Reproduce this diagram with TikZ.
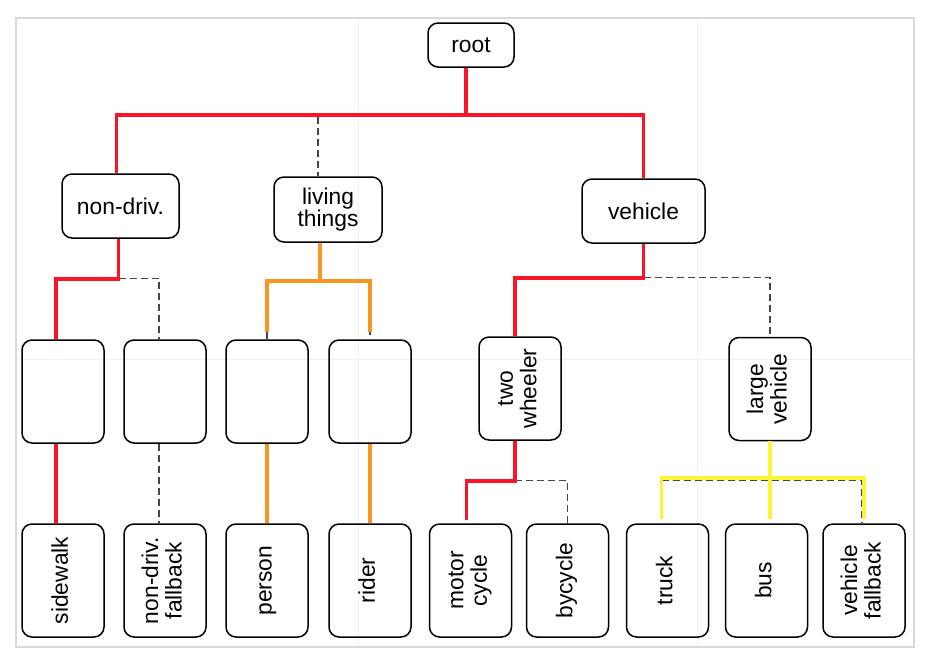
\documentclass[tikz,border=0pt]{standalone}
\usepackage{fontspec}
\setmainfont{Liberation Sans}
\usepackage{graphicx}
\usepackage{xcolor}
\usetikzlibrary{calc}

\definecolor{hitred}{RGB}{250,20,40}
\definecolor{hitorange}{RGB}{247,150,35}
\definecolor{hityellow}{RGB}{250,245,55}
\definecolor{fbgray}{RGB}{70,70,70}

\newcommand{\vtext}[1]{\rotatebox{90}{\fontsize{11.4}{11.6}\selectfont\begin{tabular}{@{}c@{}}#1\end{tabular}}}

\begin{document}
\begin{tikzpicture}[x=0.5pt, y=-0.5pt,
        box/.style={draw, rounded corners=5pt, line width=0.75pt, align=center, inner sep=0pt,
            font=\fontsize{11.4}{11}\selectfont},
        cls/.style={box, minimum width=41pt, minimum height=51.5pt},
        leaf/.style={box, minimum width=41pt, minimum height=56.5pt},
        hit/.style={line width=1.8pt},
        fb/.style={draw=fbgray, line width=0.7pt, dash pattern=on 3.5pt off 2pt}]
            \useasboundingbox (0,0) rectangle (948,660);
            % frame and faint grid
            \draw[black!5, line width=0.5pt] (358,18) -- (358,647) (697,18) -- (697,647) (16,359) -- (914,359);
            \draw[black!15, line width=0.6pt] (16,18) rectangle (914,647);
            % nodes
            \node[box, minimum width=43pt, minimum height=22pt] (root) at (471,45) {root};
            \node[box, minimum width=58.5pt, minimum height=32pt] (nondriv) at (120.5,206) {non-driv.};
            \node[box, minimum width=54pt, minimum height=32.5pt] (living) at (328,209.5) {living\\things};
            \node[box, minimum width=61.5pt, minimum height=32pt] (vehicle) at (643.5,211) {vehicle};
            \node[cls] (bA) at (63,391.5) {};
            \node[cls] (bB) at (165,391.5) {};
            \node[cls] (bC) at (267,391.5) {};
            \node[cls] (bD) at (370,391.5) {};
            \node[cls] (bE) at (520,388.5) {\vtext{two\\wheeler}};
            \node[cls] (bF) at (770,389) {\vtext{large\\vehicle}};
            \node[leaf] (lA) at (63,580.5) {\vtext{sidewalk}};
            \node[leaf] (lB) at (165,580.5) {\vtext{non-driv.\\fallback}};
            \node[leaf] (lC) at (267,580.5) {\vtext{person}};
            \node[leaf] (lD) at (370,580.5) {\vtext{rider}};
            \node[leaf] (lE) at (470.5,580.5) {\vtext{motor\\cycle}};
            \node[leaf] (lF) at (567.5,580.5) {\vtext{bycycle}};
            \node[leaf] (lG) at (667.5,580.5) {\vtext{truck}};
            \node[leaf] (lH) at (766.5,580.5) {\vtext{bus}};
            \node[leaf] (lI) at (864,580.5) {\vtext{vehicle\\fallback}};
            % junctions
            \coordinate (jr) at ($([xshift=-2.5pt]root.south)+(0,47)$);
            \coordinate (jn) at ($([xshift=-1pt]nondriv.south)+(0,40)$);
            \coordinate (jl) at ($([xshift=-4pt]living.south)+(0,38)$);
            \coordinate (jv) at ($(vehicle.south)+(0,34)$);
            \coordinate (jt) at ($([xshift=-2.5pt]bE.south)+(0,40)$);
            \coordinate (jg) at ($(bF.south)+(0,37)$);
            % root level
            \draw[fb] ([yshift=-1pt]jr -| nondriv.north) -| ([xshift=-5pt]living.north);
            \draw[hit, hitred] ([xshift=-2.5pt]root.south) -- (jr);
            \draw[hit, hitred] ([xshift=-2pt]nondriv.north) |- (jr) -| (vehicle.north);
            % non-driv.
            \draw[fb] (jn) -| ([xshift=-3pt]bB.north);
            \draw[hit, hitred] ([xshift=-1pt]nondriv.south) -- (jn) -| ([xshift=-3.5pt]bA.north);
            \draw[fb] ([xshift=-3pt]bB.south) -- ([xshift=-3pt]lB.north);
            \draw[hit, hitred] ([xshift=-3.5pt]bA.south) -- ([xshift=-3.5pt]lA.north);
            % living things
            \draw[fb] (bC.north) |- (jl) -| (bD.north);
            \draw[hit, hitorange] ([xshift=-4pt]living.south) -- (jl);
            \draw[hit, hitorange, shorten <=3.5pt, shorten >=3.5pt] (bC.north) |- (jl) -| (bD.north);
            \draw[hit, hitorange] (bC.south) -- (lC.north);
            \draw[hit, hitorange] (bD.south) -- (lD.north);
            % vehicle
            \draw[fb] (jv) -| (bF.north);
            \draw[hit, hitred] (vehicle.south) -- (jv) -| ([xshift=-2.5pt]bE.north);
            \draw[fb] (jt) -| (lF.north);
            \draw[hit, hitred, shorten >=1.5pt] ([xshift=-2.5pt]bE.south) -- (jt) -| ([xshift=-2pt]lE.north);
            \draw[fb] ([xshift=-3pt,yshift=-1pt]lG.north |- jg) -| ([xshift=-1pt]lI.north);
            \draw[hit, hityellow, shorten <=2pt, shorten >=2pt] ([xshift=-3pt]lG.north) |- (jg) -| (lI.north);
            \draw[hit, hityellow, shorten >=2pt] (bF.south) -- (bF.south |- lH.north);
        \end{tikzpicture}
\end{document}
